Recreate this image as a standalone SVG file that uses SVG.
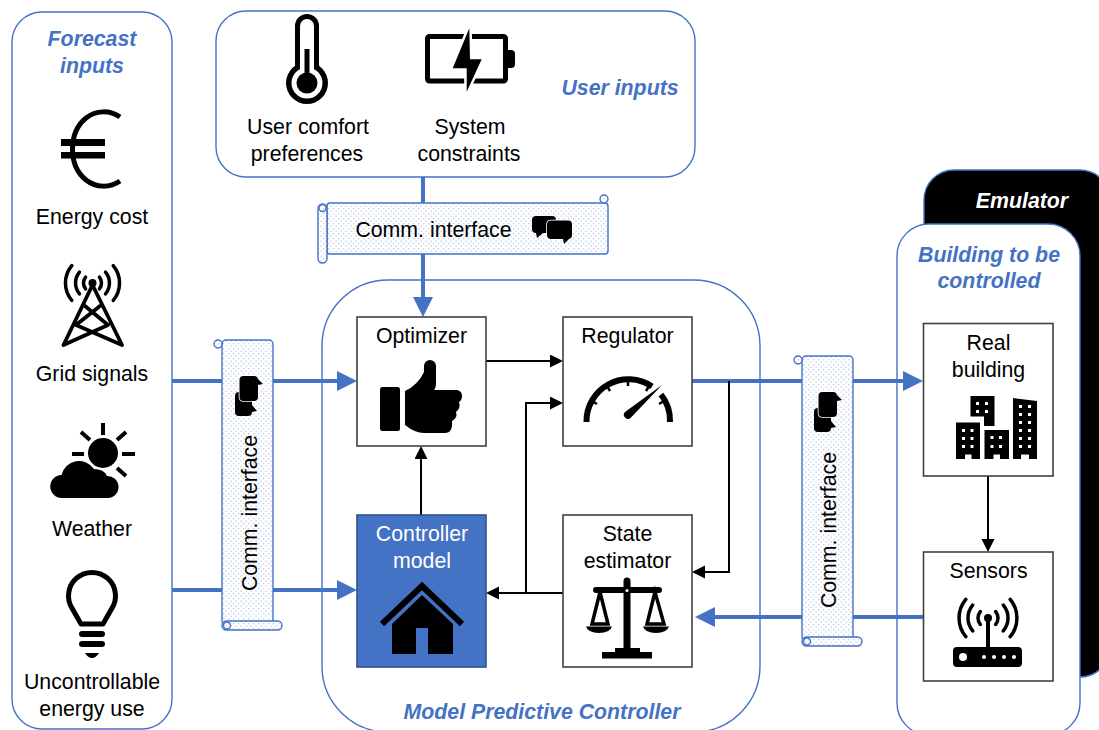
<svg xmlns="http://www.w3.org/2000/svg" width="1099" height="730" viewBox="0 0 1099 730">
<style>
text{font-family:"Liberation Sans",Arial,sans-serif;font-size:21.3px;fill:#000;text-anchor:middle}
.h{font-weight:bold;font-style:italic;fill:#4472C4}
.w{fill:#fff}
.panel{fill:#fff;stroke:#4472C4;stroke-width:1.4}
.box{fill:#fff;stroke:#404040;stroke-width:1.6}
.blue{fill:none;stroke:#4472C4;stroke-width:4}
.thin{fill:none;stroke:#000;stroke-width:2}
.scroll{fill:url(#dots);stroke:#4472C4;stroke-width:1.4}
.ln{fill:none;stroke:#000;stroke-linecap:round}
.k{fill:#000}
</style>
<defs>
<pattern id="dots" width="5" height="5" patternUnits="userSpaceOnUse"><rect width="5" height="5" fill="#fff"/><rect x="0.500" y="0.500" width="1.300" height="1.300" fill="#bccaea"/><rect x="3" y="3" width="1.300" height="1.300" fill="#bccaea"/></pattern>
<marker id="ab" markerUnits="userSpaceOnUse" markerWidth="20" markerHeight="20" refX="10" refY="10" orient="auto"><path d="M0 0L20 10L0 20Z" fill="#4472C4"/></marker>
<marker id="ak" markerUnits="userSpaceOnUse" markerWidth="14" markerHeight="14" refX="6" refY="6.5" orient="auto"><path d="M0 0L13 6.5L0 13Z" fill="#000"/></marker>
<g id="chat">
<path d="M536 216H552Q556 216 556 220V229Q556 233 552 233H543L537 238L536 233Q532 233 532 229V220Q532 216 536 216Z" fill="#000"/>
<path d="M551 220.500H568Q572 220.500 572 224.500V235Q572 239 568 239H569L564 244L563 239H551Q547 239 547 235V224.500Q547 220.500 551 220.500Z" fill="#000" stroke="#fff" stroke-width="1.600" paint-order="stroke"/>
</g>
<g id="vscroll">
<rect x="222" y="340" width="51" height="285" rx="4" class="scroll"/>
<circle cx="218" cy="344" r="4" class="scroll"/>
<rect x="222" y="621" width="60" height="9" rx="4.500" class="scroll"/>
<circle cx="227" cy="625.500" r="3.500" class="scroll"/>
</g>
</defs>
<rect width="1099" height="730" fill="#fff"/>

<g id="emulator">
<rect x="924" y="170" width="186" height="507" rx="30" fill="#000" stroke="#4472C4" stroke-width="1.400"/>
<text class="h" style="fill:#fff" x="1022" y="208">Emulator</text>
</g>

<g id="forecast-inputs">
<rect class="panel" x="12" y="12" width="160" height="717" rx="30"/>
<text class="h" x="92" y="46">Forecast</text>
<text class="h" x="92" y="73">inputs</text>
<path d="M120 117C110 110 96 110 86 118C75 127 72.500 139 72.500 149C72.500 160 76 172 86 180C96 188 110 188 120 181" fill="none" stroke="#000" stroke-width="5"/>
<rect x="61" y="139" width="44" height="7" class="k"/>
<rect x="61" y="152" width="44" height="6.500" class="k"/>
<text x="92" y="224">Energy cost</text>
<path class="ln" stroke-width="3.500" d="M85.600 277.200A9 9 0 0 0 85.600 288.800M99.400 277.200A9 9 0 0 1 99.400 288.800M79.500 272.100A17 17 0 0 0 79.500 293.900M105.500 272.100A17 17 0 0 1 105.500 293.900M71.800 265.600A27 27 0 0 0 71.800 300.400M113.200 265.600A27 27 0 0 1 113.200 300.400"/>
<circle cx="92.500" cy="283" r="4" class="k"/>
<path class="ln" stroke-width="3.800" d="M92.500 285L63.500 345M92.500 285L122 345M85 306L108 325M100 306L76 325M76 325L122 345M108 325L63.500 345"/>
<text x="92" y="381">Grid signals</text>
<circle cx="103" cy="453" r="15" class="k"/>
<path class="ln" stroke-width="4" d="M103 423V435M72 454H84M122 454H135M81 432L90 440M126 432L117 440M117 468L126 476" style="stroke-linecap:butt"/>
<path d="M62 498A11.500 11.500 0 0 1 61.500 475A18 18 0 0 1 94 469Q104 469 107 476A11 11 0 0 1 108 498Z" fill="#000" stroke="#fff" stroke-width="3" paint-order="stroke"/>
<text x="92" y="536">Weather</text>
<path d="M81 624L72.500 609A23.500 23.500 0 1 1 111.500 609L103 624Z" fill="none" stroke="#000" stroke-width="5" stroke-linejoin="round"/>
<rect x="79" y="631" width="26" height="6" rx="3" class="k"/>
<rect x="79" y="641" width="26" height="6" rx="3" class="k"/>
<path d="M85 653H99Q96 658 92 658Q88 658 85 653Z" class="k"/>
<text x="92" y="689">Uncontrollable</text>
<text x="92" y="716">energy use</text>
</g>

<g id="user-inputs">
<rect class="panel" x="216" y="11" width="479" height="166" rx="30"/>
<text class="h" x="620" y="95">User inputs</text>
<circle cx="307" cy="83" r="21" class="k"/>
<rect x="295" y="14" width="24" height="70" rx="12" class="k"/>
<rect x="300" y="19" width="14" height="60" rx="7" fill="#fff"/>
<circle cx="307" cy="83" r="15.500" fill="#fff"/>
<circle cx="307" cy="83" r="10.500" class="k"/>
<rect x="304.500" y="49" width="5" height="30" class="k"/>
<text x="308" y="134">User comfort</text>
<text x="307" y="161">preferences</text>
<rect x="427.500" y="36.500" width="78" height="44.500" rx="2" fill="none" stroke="#000" stroke-width="5"/>
<path d="M507 50H511Q515 50 515 54V64Q515 68 511 68H507Z" class="k"/>
<path d="M469.300 28.300L452.700 68.300H466.700V91.700L481.700 59.300H470Z" fill="#000" stroke="#fff" stroke-width="5" paint-order="stroke"/>
<text x="470" y="134">System</text>
<text x="469" y="161">constraints</text>
</g>

<g id="mpc-panel">
<rect class="panel" x="322" y="280" width="438" height="452" rx="66"/>
<text class="h" x="542" y="719">Model Predictive Controller</text>
</g>

<g id="building-panel">
<rect class="panel" x="897" y="224" width="183" height="511" rx="32"/>
<text class="h" x="989" y="262">Building to be</text>
<text class="h" x="989" y="288">controlled</text>
</g>

<g id="connectors">
<path class="blue" d="M172 381H347" marker-end="url(#ab)"/>
<path class="blue" d="M172 590H347" marker-end="url(#ab)"/>
<path class="blue" d="M423 177V307" marker-end="url(#ab)"/>
<path class="blue" d="M692 381H913" marker-end="url(#ab)"/>
<path class="blue" d="M923 617H705" marker-end="url(#ab)"/>
<path class="thin" d="M486 361H556" marker-end="url(#ak)"/>
<path class="thin" d="M563 593H493" marker-end="url(#ak)"/>
<path class="thin" d="M526 593V403H556" marker-end="url(#ak)"/>
<path class="thin" d="M729 381V572H699" marker-end="url(#ak)"/>
<path class="thin" d="M421 515V453" marker-end="url(#ak)"/>
<path class="thin" d="M988 476V545" marker-end="url(#ak)"/>
</g>

<g id="comm-top">
<rect x="327" y="203" width="281" height="51" rx="3" class="scroll"/>
<rect x="318" y="204" width="9" height="59" rx="4.500" class="scroll"/>
<circle cx="322.500" cy="208" r="3.500" class="scroll"/>
<circle cx="604" cy="199" r="4" class="scroll"/>
<text x="433.500" y="237">Comm. interface</text>
<use href="#chat"/>
</g>

<g id="comm-left">
<use href="#vscroll"/>
<text transform="translate(257 513) rotate(-90)">Comm. interface</text>
<use href="#chat" transform="translate(248 396) rotate(-90) translate(-552 -229)"/>
</g>

<g id="comm-right">
<use href="#vscroll" transform="translate(580 16)"/>
<text transform="translate(836 530) rotate(-90)">Comm. interface</text>
<use href="#chat" transform="translate(827 412) rotate(-90) translate(-552 -229)"/>
</g>

<g id="optimizer">
<rect class="box" x="357" y="317" width="129" height="129"/>
<text x="421.500" y="343">Optimizer</text>
<rect x="380" y="387" width="20" height="44" rx="2.500" class="k"/>
<path d="M405 391Q418 385 424 372V366A6 6 0 0 1 436 366V382Q436 388 434 390H457Q462 391 462 396Q462 400 459 402Q461 408 456 412Q458 418 452 421Q453 433 445 433H424Q415 433 405 425Z" class="k"/>
</g>

<g id="regulator">
<rect class="box" x="563" y="317" width="129" height="129"/>
<text x="627.500" y="343">Regulator</text>
<path d="M586.500 422A42 42 0 0 1 652 386.500M661 394.500A42 42 0 0 1 670 422" fill="none" stroke="#000" stroke-width="6"/>
<path d="M628 380V386M607 386L610 391M592 401L597 404M664 401L659 404M649 386L646 391" stroke="#000" stroke-width="2.500" fill="none"/>
<path d="M662 385L631 417.500A4 4 0 0 1 625 412Z" class="k"/>
</g>

<g id="controller-model">
<rect x="357" y="515" width="129" height="152" fill="#4472C4" stroke="#2F528F" stroke-width="1.600"/>
<text class="w" x="422" y="541">Controller</text>
<text class="w" x="422" y="568">model</text>
<path d="M382 624L422 586L462 624" fill="none" stroke="#000" stroke-width="6"/>
<path d="M422 595L453 624V654H428V628H416V654H392V624Z" class="k"/>
</g>

<g id="state-estimator">
<rect class="box" x="563" y="515" width="129" height="152"/>
<text x="627.500" y="541">State</text>
<text x="627.500" y="568">estimator</text>
<path d="M623.500 581A3.500 3.500 0 0 1 630.500 581V648H623.500Z" class="k"/>
<rect x="593" y="587" width="69" height="6" rx="3" class="k"/>
<circle cx="627" cy="590.500" r="1.500" fill="#fff"/>
<path d="M600 592L592 624H608Z M655 592L647 624H664Z" fill="none" stroke="#000" stroke-width="3.500"/>
<path d="M586 626.500H612Q610 633 599 633Q588 633 586 626.500Z M643 626.500H669Q667 633 656 633Q645 633 643 626.500Z" class="k"/>
<path d="M602 652H615V648H640V652H652V658.500H602Z" class="k"/>
</g>

<g id="real-building">
<rect class="box" x="923.500" y="323.500" width="129.500" height="152.500"/>
<text x="988.500" y="350">Real</text>
<text x="988.500" y="377">building</text>
<path fill-rule="evenodd" class="k" d="M956 422.500H980V459H971.500V454.500H965V459H956Z M962 429v3h3v-3Z M970.500 429v3h3v-3Z M962 437v3h3v-3Z M970.500 437v3h3v-3Z M962 445v3h3v-3Z M970.500 445v3h3v-3Z"/>
<path fill-rule="evenodd" class="k" d="M970.500 396H994.500V426H984V416.500H970.500Z M976 402v3h3v-3Z M985 402v3h3v-3Z M976 410v3h3v-3Z M985 410v3h3v-3Z"/>
<path fill-rule="evenodd" class="k" d="M984.500 430H1009V459H1000V454.500H993.500V459H984.500Z M990.500 436v3h3v-3Z M999 436v3h3v-3Z M990.500 445v3h3v-3Z M999 445v3h3v-3Z"/>
<path fill-rule="evenodd" class="k" d="M1013 398L1037 401V459H1029V454.500H1021V459H1013Z M1019 405v3h3v-3Z M1028 405v3h3v-3Z M1019 413v3h3v-3Z M1028 413v3h3v-3Z M1019 421v3h3v-3Z M1028 421v3h3v-3Z M1019 429v3h3v-3Z M1028 429v3h3v-3Z M1019 437v3h3v-3Z M1028 437v3h3v-3Z M1019 445v3h3v-3Z M1028 445v3h3v-3Z"/>
</g>

<g id="sensors">
<rect class="box" x="923.500" y="552" width="129.500" height="129"/>
<text x="988.500" y="578">Sensors</text>
<path class="ln" stroke-width="3.500" d="M980.300 611.600A10 10 0 0 0 980.300 624.400M995.700 611.600A10 10 0 0 1 995.700 624.400M972.700 605.100A20 20 0 0 0 972.700 630.900M1003.300 605.100A20 20 0 0 1 1003.300 630.900M965.800 599.400A29 29 0 0 0 965.800 636.600M1010.200 599.400A29 29 0 0 1 1010.200 636.600"/>
<circle cx="988" cy="618" r="4" class="k"/>
<rect x="986" y="618" width="4" height="30" class="k"/>
<rect x="953" y="647" width="69" height="20" rx="4" class="k"/>
<circle cx="963" cy="657" r="4" fill="#fff"/>
<circle cx="984" cy="657" r="2" fill="#fff"/><circle cx="994" cy="657" r="2" fill="#fff"/><circle cx="1004" cy="657" r="2" fill="#fff"/><circle cx="1014" cy="657" r="2" fill="#fff"/>
</g>
</svg>
